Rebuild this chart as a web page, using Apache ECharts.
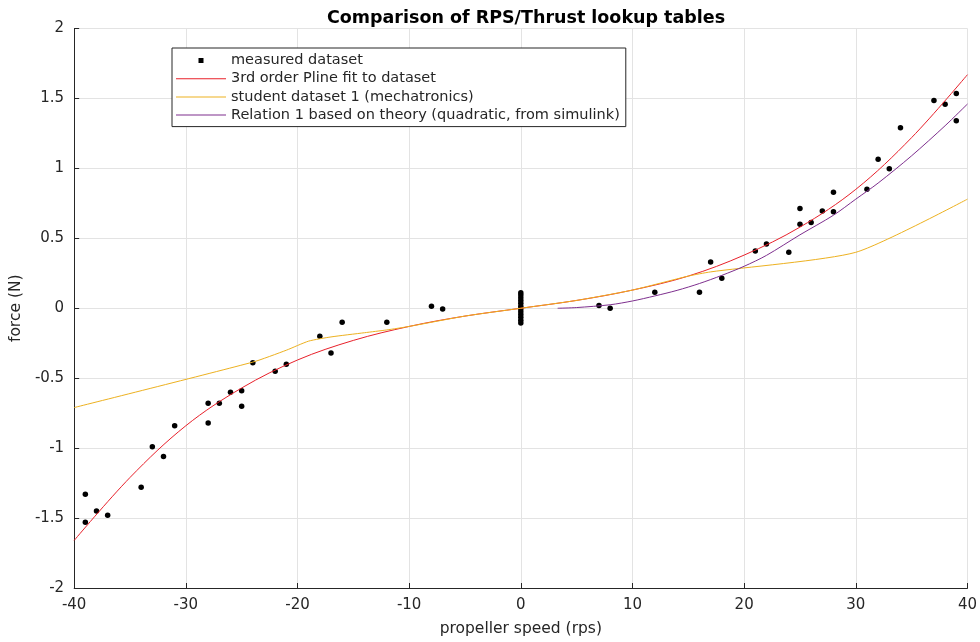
<!DOCTYPE html>
<html>
<head>
<meta charset="utf-8">
<script src="https://cdn.jsdelivr.net/npm/echarts@6/dist/echarts.min.js"></script>
<style>
html,body{margin:0;padding:0;background:#fff;}
#chart{width:980px;height:642px;}
</style>
</head>
<body>
<div id="chart"></div>
<script>
// ---- data ----
const titleText = 'Comparison of RPS/Thrust lookup tables';
const xAxisName = 'propeller speed (rps)';
const yAxisName = 'force (N)';
const seriesNames = ['measured dataset', '3rd order Pline fit to dataset', 'student dataset 1 (mechatronics)', 'Relation 1 based on theory (quadratic, from simulink)'];

const measuredX = [-39, -39, -38, -37, -34, -33, -32, -31, -28, -28, -27, -26, -25, -25, -24, -22, -21, -18, -17, -16, -12, -8, -7,
  0, 0, 0, 0, 0, 0, 0, 0, 0, 0, 0, 0,
  7, 8, 12, 16, 17, 18, 21, 22, 24, 25, 25, 26, 27, 28, 28, 31, 32, 33, 34, 37, 38, 39, 39];
const measuredY = [-1.33, -1.53, -1.45, -1.48, -1.28, -0.99, -1.06, -0.84, -0.68, -0.82, -0.68, -0.60, -0.59, -0.70, -0.39, -0.45, -0.40, -0.20, -0.32, -0.10, -0.10, 0.015, -0.005,
  -0.105, -0.085, -0.065, -0.045, -0.025, -0.005, 0.015, 0.035, 0.055, 0.075, 0.095, 0.11,
  0.02, 0.0, 0.115, 0.115, 0.33, 0.215, 0.41, 0.46, 0.40, 0.713, 0.60, 0.613, 0.696, 0.829, 0.69, 0.85, 1.066, 0.998, 1.29, 1.486, 1.458, 1.536, 1.34];

const fitX = [-40, -35, -30, -25, -20, -15, -10, -5, 0, 5, 10, 15, 20, 25, 30, 35, 40];
const fitY = [-1.66, -1.21, -0.84, -0.57, -0.37, -0.23, -0.13, -0.056, 0, 0.056, 0.13, 0.23, 0.38, 0.58, 0.85, 1.22, 1.67];

const studentX = [-40, -24, -21, -19, -17, -14, -12, -10, -5, 0, 5, 10, 15, 17, 30, 40];
const studentY = [-0.71, -0.385, -0.30, -0.235, -0.205, -0.175, -0.155, -0.13, -0.056, 0, 0.056, 0.13, 0.23, 0.26, 0.40, 0.78];

const theoryX = [3.3, 5, 8, 10, 12, 14, 16, 18, 20, 22, 25, 28, 30, 32, 35, 38, 40];
const theoryY = [0.0, 0.005, 0.025, 0.052, 0.088, 0.128, 0.177, 0.235, 0.30, 0.378, 0.525, 0.665, 0.78, 0.895, 1.09, 1.305, 1.46];

const xMin = -40, xMax = 40, xStep = 10;
const yMin = -2, yMax = 2, yStep = 0.5;

// ---- build ----
const pair = (xs, ys) => xs.map((x, i) => [x, ys[i]]);
const FONT = "'DejaVu Sans', sans-serif";
const TXT = '#262626';
const LINE_ICON = 'path://M0,0M50,14M0,6.5h50v1h-50z';

const chart = echarts.init(document.getElementById('chart'), null, {renderer: 'canvas'});
chart.setOption({
  backgroundColor: '#ffffff',
  animation: false,
  title: {
    text: titleText,
    left: 521, top: 4, textAlign: 'center',
    textStyle: {fontFamily: FONT, fontSize: 17.5, fontWeight: 'bold', color: '#000'}
  },
  legend: {
    orient: 'vertical',
    left: 172, top: 48,
    padding: [5, 6, 4, 4],
    itemWidth: 50, itemHeight: 14, itemGap: 3.2,
    borderColor: '#262626', borderWidth: 1,
    backgroundColor: '#fff',
    textStyle: {fontFamily: FONT, fontSize: 14.5, lineHeight: 14, color: TXT},
    data: [
      {name: seriesNames[0], icon: 'path://M0,0M50,14M22.5,4.5h5v5h-5z'},
      {name: seriesNames[1], icon: LINE_ICON},
      {name: seriesNames[2], icon: LINE_ICON},
      {name: seriesNames[3], icon: LINE_ICON}
    ]
  },
  grid: {left: 72.5, right: 10.7, top: 28.5, bottom: 51.5, containLabel: false},
  xAxis: {
    type: 'value', min: xMin, max: xMax, interval: xStep,
    name: xAxisName, nameLocation: 'middle', nameGap: 33,
    nameTextStyle: {fontFamily: FONT, fontSize: 15.5, color: TXT},
    axisLine: {show: true, onZero: false, lineStyle: {color: '#262626', width: 1}},
    axisTick: {show: true, inside: true, length: 5, lineStyle: {color: '#262626'}},
    axisLabel: {fontFamily: FONT, fontSize: 15, color: TXT, margin: 10},
    splitLine: {show: true, lineStyle: {color: '#e3e3e3', width: 1}}
  },
  yAxis: {
    type: 'value', min: yMin, max: yMax, interval: yStep,
    name: yAxisName, nameLocation: 'middle', nameGap: 42,
    nameTextStyle: {fontFamily: FONT, fontSize: 15.5, color: TXT},
    axisLine: {show: true, onZero: false, lineStyle: {color: '#262626', width: 1}},
    axisTick: {show: true, inside: true, length: 5, lineStyle: {color: '#262626'}},
    axisLabel: {fontFamily: FONT, fontSize: 15, color: TXT, margin: 10},
    splitLine: {show: true, lineStyle: {color: '#e3e3e3', width: 1}}
  },
  series: [
    {
      name: seriesNames[0], type: 'scatter',
      data: pair(measuredX, measuredY),
      symbol: 'circle', symbolSize: 5.5,
      itemStyle: {color: '#000', opacity: 1}
    },
    {
      name: seriesNames[1], type: 'line',
      data: pair(fitX, fitY),
      smooth: 0.35, showSymbol: false, symbol: 'none',
      lineStyle: {color: '#e8202a', width: 1},
      itemStyle: {color: '#e8202a'}
    },
    {
      name: seriesNames[2], type: 'line',
      data: pair(studentX, studentY),
      smooth: 0.2, showSymbol: false, symbol: 'none',
      lineStyle: {color: '#EDB120', width: 1},
      itemStyle: {color: '#EDB120'}
    },
    {
      name: seriesNames[3], type: 'line',
      data: pair(theoryX, theoryY),
      smooth: 0.3, showSymbol: false, symbol: 'none',
      lineStyle: {color: '#7E2F8E', width: 1},
      itemStyle: {color: '#7E2F8E'}
    }
  ]
});
</script>
</body>
</html>
